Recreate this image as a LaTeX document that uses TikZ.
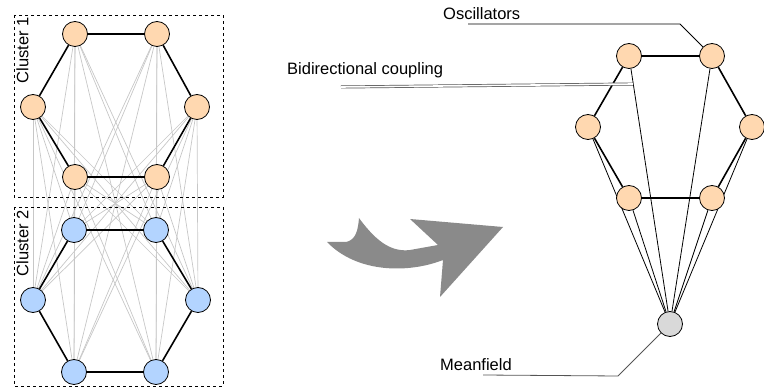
\documentclass[tikz,border=0pt]{standalone}
\usepackage{fontspec}
\setmainfont{Liberation Sans}
\usetikzlibrary{backgrounds}
\definecolor{peach}{HTML}{FFD8B0}
\definecolor{skyb}{HTML}{B3D4FF}
\definecolor{mfgray}{HTML}{D9D9D9}
\definecolor{arrowgray}{HTML}{8A8A8A}
\definecolor{callgray}{HTML}{555555}
\begin{document}
\begin{tikzpicture}[x=1pt,y=-1pt,
  osc/.style={circle,draw=black,line width=0.8pt,minimum size=25pt,inner sep=0pt},
  orange/.style={osc,fill=peach},
  blue/.style={osc,fill=skyb},
  meanf/.style={osc,fill=mfgray},
  ring/.style={line width=1.6pt,black},
  weak/.style={line width=0.7pt,black!22},
  spoke/.style={line width=0.8pt,black},
  clusterbox/.style={draw,dash pattern=on 3pt off 3pt,line width=0.7pt},
  lbl/.style={inner sep=0pt,font=\fontsize{16.5}{18}\selectfont},
  callout/.style={line width=0.8pt}]
\useasboundingbox (0,0) rectangle (764,390);
% cluster 1
\node[orange] (a1) at (75,34) {};
\node[orange] (a2) at (157,34) {};
\node[orange] (a3) at (197,107) {};
\node[orange] (a4) at (157,177) {};
\node[orange] (a5) at (75,177) {};
\node[orange] (a6) at (33,107) {};
% cluster 2
\node[blue] (b1) at (74,230) {};
\node[blue] (b2) at (156,230) {};
\node[blue] (b3) at (198,300) {};
\node[blue] (b4) at (156,372) {};
\node[blue] (b5) at (74,372) {};
\node[blue] (b6) at (33,300) {};
\begin{scope}[on background layer]
  \foreach \i in {1,...,6}{
    \foreach \j in {1,...,6}{
      \draw[weak] (a\i) -- (b\j);
    }
  }
  \draw[clusterbox] (14,15) rectangle (223,197);
  \draw[clusterbox] (14,207) rectangle (223,386);
  \draw[ring] (a1)--(a2) (a2)--(a3) (a3)--(a4) (a4)--(a5) (a5)--(a6) (a6)--(a1);
  \draw[ring] (b1)--(b2) (b2)--(b3) (b3)--(b4) (b4)--(b5) (b5)--(b6) (b6)--(b1);
\end{scope}
\node[lbl,rotate=90,anchor=east] (cl1) at (22.5,17) {Cluster 1};
\node[lbl,rotate=90,anchor=east] (cl2) at (22.5,210) {Cluster 2};
% curved arrow
\fill[arrowgray] (359,218) .. controls (378,244) and (393,252) .. (410,250)
  -- (438,245) -- (410,219) -- (503,227) -- (440,297) -- (443,260)
  .. controls (410,273) and (358,274) .. (327,242)
  -- (346,242) .. controls (356,240) and (358,230) .. (359,218) -- cycle;
% right panel
\node[meanf] (mf) at (670,324) {};
\node[orange] (o1) at (629,56) {};
\node[orange] (o2) at (712,56) {};
\node[orange] (o3) at (752,127) {};
\node[orange] (o4) at (712,198) {};
\node[orange] (o5) at (629,198) {};
\node[orange] (o6) at (588,127) {};
\begin{scope}[on background layer]
  \foreach \i in {1,...,6}{
    \draw[spoke] (o\i) -- (mf);
  }
  \draw[ring] (o1)--(o2) (o2)--(o3) (o3)--(o4) (o4)--(o5) (o5)--(o6) (o6)--(o1);
\end{scope}
% labels and callouts
\node[lbl,anchor=west] (tosc) at (443,14) {Oscillators};
\node[lbl,anchor=west] (tbid) at (287,70) {Bidirectional coupling};
\node[lbl,anchor=west] (tmf) at (440,365) {Meanfield};
\coordinate (oscA) at (468,24);
\coordinate (oscB) at (680,24);
\draw[callout] (oscA) -- (oscB) -- (o2.north west);
\coordinate (bidA) at (341,87);
\coordinate (bidB) at (633,84);
\draw[callgray,double=white,double distance=1.6pt,line width=0.7pt] (bidA) -- (bidB);
\coordinate (mfA) at (483,375);
\coordinate (mfB) at (618,376);
\draw[callout,callgray] (mfA) -- (mfB) -- (mf.south west);
\end{tikzpicture}
\end{document}
